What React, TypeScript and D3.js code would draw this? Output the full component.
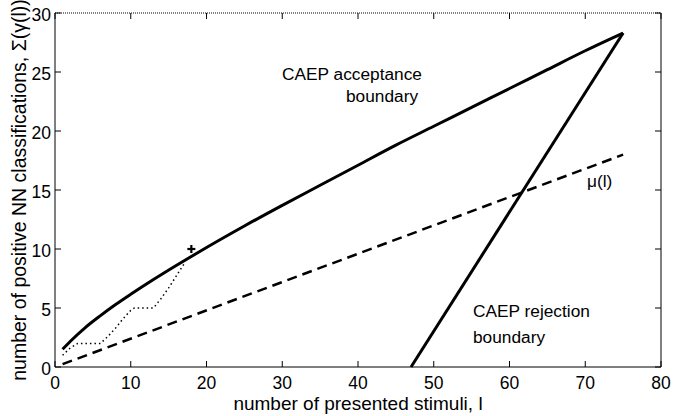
import React from "react";
import * as d3 from "d3";

// Data
const xTicks = [0, 10, 20, 30, 40, 50, 60, 70, 80];
const yTicks = [0, 5, 10, 15, 20, 25, 30];

const acceptL = [1, 2, 4, 6, 8, 10, 13, 16, 19, 25, 30, 35, 40, 45, 50, 55, 60, 65, 70, 75];
const acceptY = [1.5, 2.16, 3.34, 4.35, 5.29, 6.16, 7.41, 8.6, 9.75, 11.95, 13.7, 15.4, 17.1, 18.8, 20.4, 22.0, 23.6, 25.2, 26.8, 28.3];

const rejectL = [47, 75];
const rejectY = [0, 28.3];

const meanL = [1, 75];
const meanY = [0.24, 18.0];

const observedL = [1, 2, 3, 6, 7, 8, 9, 10, 10.5, 13, 14, 15, 16, 17];
const observedY = [1, 1.6, 2, 2, 2.6, 3.3, 4.1, 4.8, 5, 5, 5.8, 6.7, 7.7, 8.7];

const markL = [18];
const markY = [10];

const W = 673;
const H = 416;
const M = { left: 55, right: 661, top: 13, bottom: 367 };
const FONT = "'Liberation Sans', Arial, Helvetica, sans-serif";

export default function App() {
  const x = d3.scaleLinear().domain([0, 80]).range([M.left, M.right]);
  const y = d3.scaleLinear().domain([0, 30]).range([M.bottom, M.top]);

  const line = d3
    .line<[number, number]>()
    .x((d) => x(d[0]))
    .y((d) => y(d[1]));
  const smooth = d3
    .line<[number, number]>()
    .x((d) => x(d[0]))
    .y((d) => y(d[1]))
    .curve(d3.curveMonotoneX);

  const zip = (a: number[], b: number[]) => a.map((v, i) => [v, b[i]] as [number, number]);

  const tickLen = 6;

  return (
    <div style={{ position: "fixed", left: 0, top: 0 }}>
      <svg width={W} height={H} style={{ display: "block", background: "#fff" }} fontFamily={FONT}>
        <rect x={0} y={0} width={W} height={H} fill="#fff" />
        {/* frame */}
        <line x1={M.left} x2={M.right} y1={M.top} y2={M.top} stroke="#000" strokeWidth={1} strokeDasharray="1 1" />
        <line x1={M.left} x2={M.right} y1={M.bottom} y2={M.bottom} stroke="#000" strokeWidth={1} />
        <line x1={M.left} x2={M.left} y1={M.top} y2={M.bottom} stroke="#000" strokeWidth={1} />
        <line x1={M.right} x2={M.right} y1={M.top} y2={M.bottom} stroke="#000" strokeWidth={1} />

        {/* x ticks */}
        {xTicks.map((t) => (
          <g key={"x" + t}>
            <line x1={x(t)} x2={x(t)} y1={M.bottom} y2={M.bottom - tickLen} stroke="#000" />
            <line x1={x(t)} x2={x(t)} y1={M.top} y2={M.top + tickLen} stroke="#000" />
            <text x={x(t)} y={M.bottom + 22} fontSize={17.5} textAnchor="middle" fill="#000">
              {t}
            </text>
          </g>
        ))}
        {/* y ticks */}
        {yTicks.map((t) => (
          <g key={"y" + t}>
            <line x1={M.left} x2={M.left + tickLen} y1={y(t)} y2={y(t)} stroke="#000" />
            <line x1={M.right} x2={M.right - tickLen} y1={y(t)} y2={y(t)} stroke="#000" />
            <text x={M.left - 4} y={y(t) + 7.5} fontSize={17.5} textAnchor="end" fill="#000">
              {t}
            </text>
          </g>
        ))}

        {/* axis titles */}
        <text x={(M.left + M.right) / 2} y={410} fontSize={19} textAnchor="middle" fill="#000">
          number of presented stimuli, l
        </text>
        <text
          transform={`translate(${25.5},${(M.top + M.bottom) / 2}) rotate(-90)`}
          fontSize={19.5}
          textAnchor="middle"
          fill="#000"
        >
          number of positive NN classifications, Σ(γ(l))
        </text>

        {/* mean dashed */}
        <path d={line(zip(meanL, meanY)) || ""} fill="none" stroke="#000" strokeWidth={2.5} strokeDasharray="10 6" />
        {/* observed dotted */}
        <path
          d={line(zip(observedL, observedY)) || ""}
          fill="none"
          stroke="#000"
          strokeWidth={1.5}
          strokeDasharray="1.5 3"
        />
        {/* acceptance */}
        <path d={smooth(zip(acceptL, acceptY)) || ""} fill="none" stroke="#000" strokeWidth={3} strokeLinejoin="round" />
        {/* rejection */}
        <path d={line(zip(rejectL, rejectY)) || ""} fill="none" stroke="#000" strokeWidth={3} />
        {/* decision mark */}
        {markL.map((l, i) => (
          <g key={"m" + i} stroke="#000" strokeWidth={2.2}>
            <line x1={x(l) - 4} x2={x(l) + 4} y1={y(markY[i])} y2={y(markY[i])} />
            <line x1={x(l)} x2={x(l)} y1={y(markY[i]) - 4} y2={y(markY[i]) + 4} />
          </g>
        ))}

        {/* annotations */}
        <text x={282} y={80} fontSize={17.3} fill="#000">CAEP acceptance</text>
        <text x={346} y={102} fontSize={17.3} fill="#000">boundary</text>
        <text x={473} y={317} fontSize={17.3} fill="#000">CAEP rejection</text>
        <text x={473} y={343} fontSize={17.3} fill="#000">boundary</text>
        <text x={587} y={187} fontSize={17.3} fill="#000">μ(l)</text>
      </svg>
    </div>
  );
}
